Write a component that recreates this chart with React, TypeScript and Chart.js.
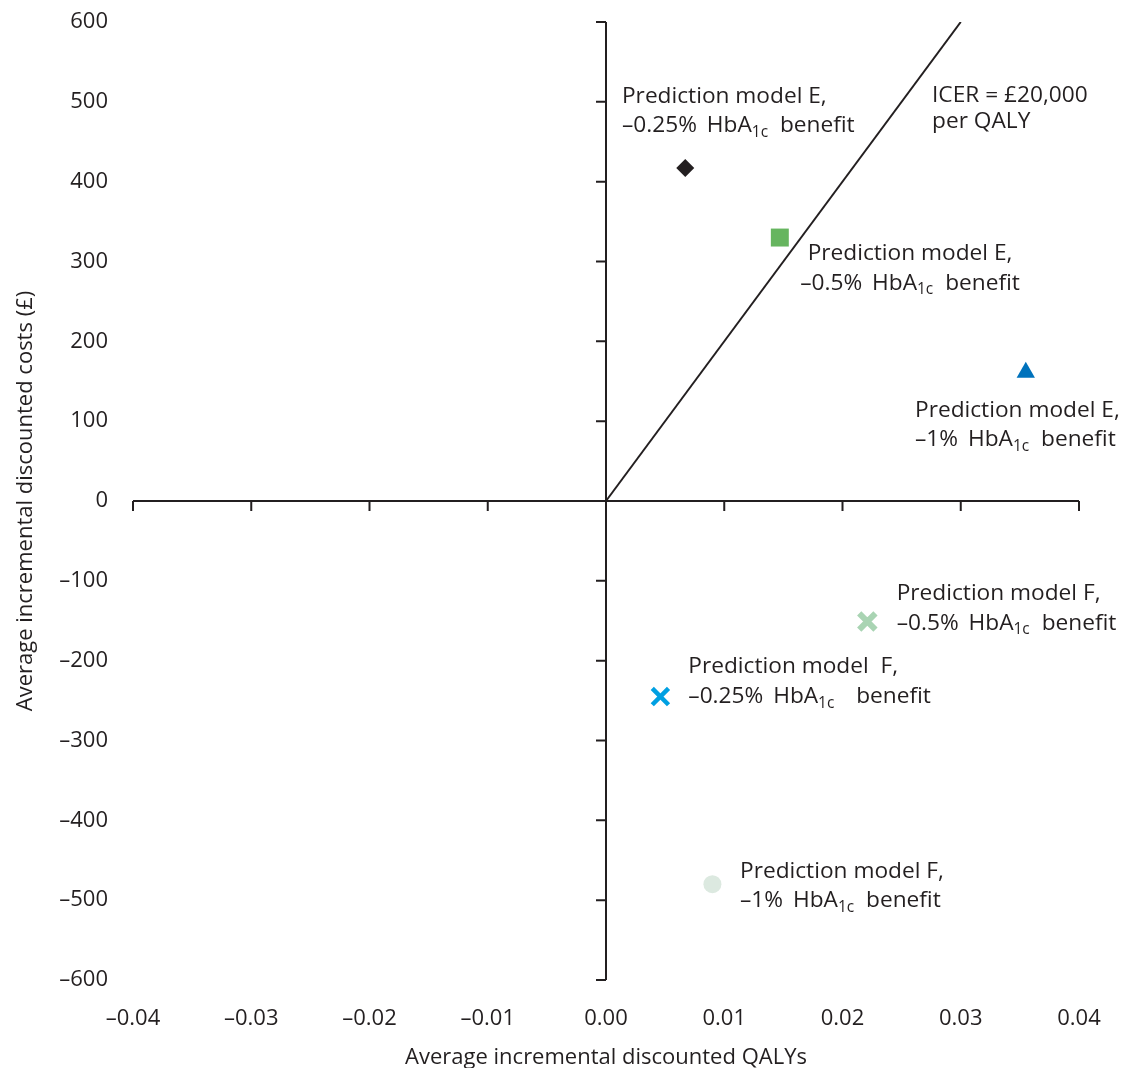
import React, { useEffect, useRef } from "react";
import { Chart, registerables } from "chart.js";

Chart.register(...registerables);

// ---- data ----
const xMin = -0.04;
const xMax = 0.04;
const xStep = 0.01;
const yMin = -600;
const yMax = 600;
const yStep = 100;

const pointNames = [
  "Prediction model E, –0.25% HbA1c benefit",
  "Prediction model E, –0.5% HbA1c benefit",
  "Prediction model E, –1% HbA1c benefit",
  "Prediction model F, –0.5% HbA1c benefit",
  "Prediction model F, –0.25% HbA1c benefit",
  "Prediction model F, –1% HbA1c benefit",
];
const pointQALYs = [0.0067, 0.0147, 0.0355, 0.0221, 0.0046, 0.009];
const pointCosts = [417, 330, 161, -151, -245, -480];

const icerQALYs = [0, 0.03];
const icerCosts = [0, 600];

// annotation text (with _{..} marking subscripts), anchors in data units
const labelLines = [
  ["Prediction model E,", "–0.25% HbA_{1c} benefit"],
  ["ICER = £20,000", "per QALY"],
  ["Prediction model E,", "–0.5% HbA_{1c} benefit"],
  ["Prediction model E,", "–1% HbA_{1c} benefit"],
  ["Prediction model F,", "–0.5% HbA_{1c} benefit"],
  ["Prediction model  F,", "–0.25% HbA_{1c}  benefit"],
  ["Prediction model F,", "–1% HbA_{1c} benefit"],
];
const labelX = [0.00135, 0.02757, 0.02571, 0.02613, 0.02458, 0.00696, 0.01133];
const labelY = [499, 500, 302, 105, -124, -215, -472];

// ---- styles ----
const INK = "#231f20";
const FONT_FAMILY = "'Open Sans', 'Noto Sans', sans-serif";
const FONT_SIZE = 22;
const LABEL_SIZE = 22.7;
const SUB_SIZE = 15.5;
const SUB_GAP = 2;
const labelAlign = ["left", "left", "center", "left", "left", "left", "left"];
const labelSpacing = [29.6, 26.5, 29.6, 29.2, 30, 30.5, 29.2];

const pointStyles = ["rectRot", "rect", "triangle", "crossRot", "crossRot", "circle"];
const pointRadii = [9, 12.7, 10.6, 11.5, 11.5, 9];
const pointColors = ["#231f20", "#66b55f", "#0072bc", "#a9d4b3", "#00a0e2", "#dce9e0"];
const pointBorderWidths = [0, 0, 0, 6, 4.5, 0];

function fmtDash(s: string) {
  return s.replace("-", "\u2013");
}

function parseSegments(line: string) {
  const segs: { t: string; sub: boolean }[] = [];
  const re = /_\{([^}]*)\}/g;
  let last = 0;
  let m: RegExpExecArray | null;
  while ((m = re.exec(line))) {
    if (m.index > last) segs.push({ t: line.slice(last, m.index), sub: false });
    segs.push({ t: m[1], sub: true });
    last = m.index + m[0].length;
  }
  if (last < line.length) segs.push({ t: line.slice(last), sub: false });
  return segs;
}

const axesPlugin = {
  id: "crossAxes",
  beforeDatasetsDraw(chart: any) {
    const { ctx, scales } = chart;
    const xs = scales.x;
    const ys = scales.y;
    const x0 = xs.getPixelForValue(0);
    const y0 = ys.getPixelForValue(0);
    ctx.save();
    ctx.strokeStyle = INK;
    ctx.lineWidth = 2;
    ctx.beginPath();
    // y axis at x = 0
    ctx.moveTo(x0, ys.getPixelForValue(yMax));
    ctx.lineTo(x0, ys.getPixelForValue(yMin));
    ys.ticks.forEach((t: any) => {
      const p = ys.getPixelForValue(t.value);
      ctx.moveTo(x0, p);
      ctx.lineTo(x0 - 10, p);
    });
    // x axis at y = 0
    ctx.moveTo(xs.getPixelForValue(xMin), y0);
    ctx.lineTo(xs.getPixelForValue(xMax), y0);
    xs.ticks.forEach((t: any) => {
      const p = xs.getPixelForValue(t.value);
      ctx.moveTo(p, y0);
      ctx.lineTo(p, y0 + 10);
    });
    ctx.stroke();
    ctx.restore();
  },
};

const labelsPlugin = {
  id: "pointLabels",
  afterDatasetsDraw(chart: any) {
    const { ctx, scales } = chart;
    const mainFont = `${LABEL_SIZE}px ${FONT_FAMILY}`;
    const subFont = `${SUB_SIZE}px ${FONT_FAMILY}`;
    ctx.save();
    ctx.fillStyle = INK;
    ctx.textBaseline = "alphabetic";
    ctx.textAlign = "left";
    labelLines.forEach((lines, i) => {
      const ax = scales.x.getPixelForValue(labelX[i]);
      const ay = scales.y.getPixelForValue(labelY[i]);
      lines.forEach((line, j) => {
        const segs = parseSegments(line);
        const hasSub = segs.some((s) => s.sub);
        (ctx as any).wordSpacing = hasSub ? "4px" : "0px";
        const segWidth = (s: { t: string; sub: boolean }) => {
          ctx.font = s.sub ? subFont : mainFont;
          return ctx.measureText(s.t).width + (s.sub ? SUB_GAP : 0);
        };
        let width = 0;
        segs.forEach((s) => {
          width += segWidth(s);
        });
        let x = labelAlign[i] === "center" ? ax - width / 2 : ax;
        const y = ay + j * labelSpacing[i];
        segs.forEach((s) => {
          const w = segWidth(s);
          ctx.fillText(s.t, x, s.sub ? y + 4.5 : y);
          x += w;
        });
      });
    });
    (ctx as any).wordSpacing = "0px";
    ctx.restore();
  },
};

export default function App() {
  const canvasRef = useRef<HTMLCanvasElement | null>(null);

  useEffect(() => {
    const canvas = canvasRef.current;
    if (!canvas) return;
    const tickFont = { family: FONT_FAMILY, size: FONT_SIZE };

    const datasets: any[] = [
      {
        label: "ICER = £20,000 per QALY",
        data: icerQALYs.map((x, i) => ({ x, y: icerCosts[i] })),
        showLine: true,
        borderColor: INK,
        borderWidth: 2,
        pointRadius: 0,
        fill: false,
      },
      ...pointNames.map((name, i) => ({
        label: name,
        data: [{ x: pointQALYs[i], y: pointCosts[i] }],
        pointStyle: pointStyles[i],
        pointRadius: pointRadii[i],
        backgroundColor: pointColors[i],
        borderColor: pointColors[i],
        borderWidth: pointBorderWidths[i],
      })),
    ];

    const chart = new Chart(canvas, {
      type: "scatter",
      data: { datasets },
      options: {
        animation: false,
        responsive: false,
        maintainAspectRatio: false,
        layout: { padding: { top: 22, right: 42, left: 0, bottom: 0 } },
        plugins: {
          legend: { display: false },
          tooltip: { enabled: false },
        },
        scales: {
          x: {
            type: "linear",
            position: "bottom",
            min: xMin,
            max: xMax,
            grid: { display: false, drawTicks: false },
            border: { display: false },
            ticks: {
              stepSize: xStep,
              autoSkip: false,
              maxRotation: 0,
              padding: 25.5,
              color: INK,
              font: tickFont,
              callback: (v: any) => {
                const n = Number(v);
                if (Math.abs(n) < 1e-9) return "0.00";
                return fmtDash(n.toFixed(2));
              },
            },
            title: {
              display: true,
              text: "Average incremental discounted QALYs",
              color: INK,
              font: tickFont,
              padding: { top: 0, bottom: -3 },
            },
            afterFit: (s: any) => {
              s.height = 88;
              s.paddingLeft = 0;
              s.paddingRight = 0;
            },
          },
          y: {
            type: "linear",
            position: "left",
            min: yMin,
            max: yMax,
            grid: { display: false, drawTicks: false },
            border: { display: false },
            ticks: {
              stepSize: yStep,
              autoSkip: false,
              padding: 25,
              color: INK,
              font: tickFont,
              callback: (v: any) => fmtDash(String(Math.round(Number(v)))),
            },
            title: {
              display: true,
              text: "Average incremental discounted costs (£)",
              color: INK,
              font: tickFont,
              padding: { top: 13, bottom: 0 },
            },
            afterFit: (s: any) => {
              s.width = 133;
              s.paddingTop = 0;
              s.paddingBottom = 0;
            },
          },
        },
      } as any,
      plugins: [axesPlugin, labelsPlugin],
    });

    return () => {
      chart.destroy();
    };
  }, []);

  return (
    <div
      style={{
        position: "fixed",
        left: 0,
        top: 0,
        width: 1121,
        height: 1068,
        background: "#ffffff",
      }}
    >
      <canvas ref={canvasRef} width={1121} height={1068} style={{ display: "block", width: 1121, height: 1068 }} />
    </div>
  );
}
